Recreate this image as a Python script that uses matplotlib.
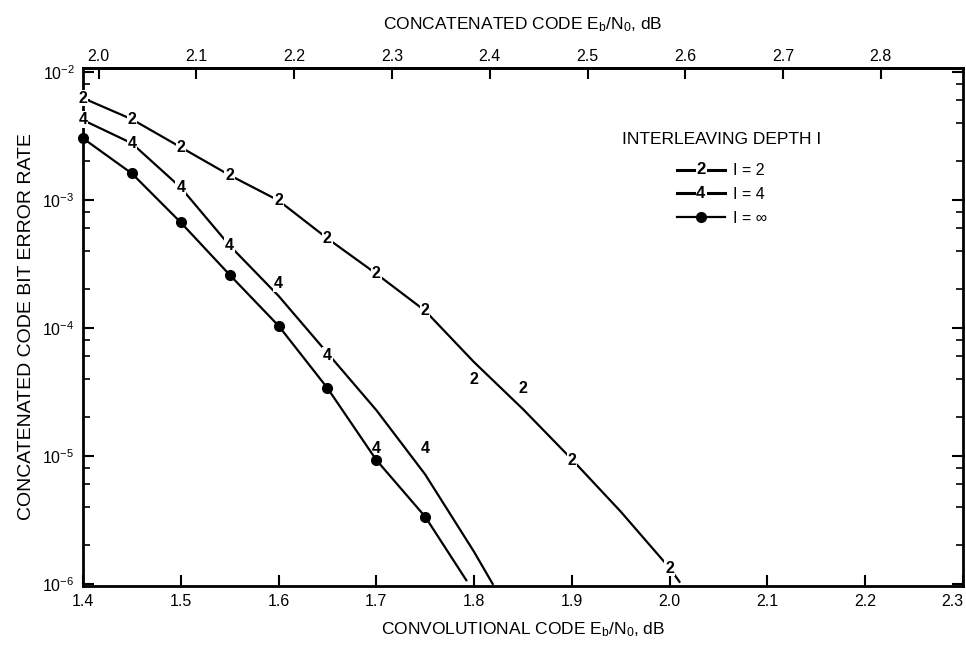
import numpy as np
import matplotlib
matplotlib.use("Agg")
import matplotlib.pyplot as plt
from matplotlib.lines import Line2D
from matplotlib.text import Text
from matplotlib.legend_handler import HandlerBase
from matplotlib.ticker import LogLocator, NullFormatter

plt.rcParams['font.family'] = ['Liberation Sans', 'DejaVu Sans']
plt.rcParams['mathtext.fontset'] = 'custom'
plt.rcParams['mathtext.rm'] = 'Liberation Sans'
plt.rcParams['mathtext.it'] = 'Liberation Sans'

# curve I = 2 (line and its numbered points)
two_line_x = [1.40, 1.45, 1.50, 1.55, 1.60, 1.65, 1.70, 1.75, 1.80, 1.85, 1.90, 1.95, 2.00, 2.01]
two_line_y = [6.25e-3, 4.27e-3, 2.58e-3, 1.56e-3, 9.9e-4, 5.0e-4, 2.65e-4, 1.36e-4,
              5.4e-5, 2.32e-5, 9.4e-6, 3.67e-6, 1.33e-6, 1.04e-6]
two_pts_x = [1.40, 1.45, 1.50, 1.55, 1.60, 1.65, 1.70, 1.75, 1.80, 1.85, 1.90, 2.00]
two_pts_y = [6.25e-3, 4.27e-3, 2.58e-3, 1.56e-3, 9.9e-4, 5.0e-4, 2.65e-4, 1.36e-4,
             3.98e-5, 3.39e-5, 9.2e-6, 1.33e-6]

# curve I = 4
four_line_x = [1.40, 1.45, 1.50, 1.55, 1.60, 1.65, 1.70, 1.75, 1.80, 1.819]
four_line_y = [4.21e-3, 2.77e-3, 1.25e-3, 4.4e-4, 1.78e-4, 6.37e-5, 2.28e-5, 7.16e-6, 1.78e-6, 1.0e-6]
four_pts_x = [1.40, 1.45, 1.50, 1.55, 1.60, 1.65, 1.70, 1.75]
four_pts_y = [4.27e-3, 2.77e-3, 1.25e-3, 4.4e-4, 2.21e-4, 6.14e-5, 1.15e-5, 1.15e-5]

# curve I = infinity (dots on the first 8 points)
inf_x = [1.40, 1.45, 1.50, 1.55, 1.60, 1.65, 1.70, 1.75, 1.792]
inf_y = [3.03e-3, 1.61e-3, 6.67e-4, 2.6e-4, 1.04e-4, 3.39e-5, 9.3e-6, 3.35e-6, 1.07e-6]
n_dots = 8

bottom_ticks = [1.4, 1.5, 1.6, 1.7, 1.8, 1.9, 2.0, 2.1, 2.2, 2.3]
top_ticks = [2.0, 2.1, 2.2, 2.3, 2.4, 2.5, 2.6, 2.7, 2.8]
top_offset = 0.584  # concatenated Eb/N0 = convolutional Eb/N0 + offset


class DigitHandler(HandlerBase):
    """legend entry drawn as  --d--"""
    def __init__(self, digit):
        super().__init__()
        self.digit = digit

    def create_artists(self, legend, orig_handle, xdescent, ydescent, width, height, fontsize, trans):
        y = height / 2 - ydescent
        x0 = -xdescent
        mid = x0 + width / 2
        gap = 0.15 * width
        a = Line2D([x0, mid - gap], [y, y], color='black', lw=2.2, transform=trans)
        b = Line2D([mid + gap, x0 + width], [y, y], color='black', lw=2.2, transform=trans)
        t = Text(mid, y, self.digit, ha='center', va='center', fontsize=fontsize + 0.5,
                 fontweight='bold', transform=trans)
        return [a, b, t]


fig = plt.figure(figsize=(9.66, 6.45), dpi=100)
ax = fig.add_axes([0.0859, 0.0915, 0.911, 0.8031])

label_box = dict(facecolor='white', edgecolor='none', pad=0.6)

l2, = ax.plot(two_line_x, two_line_y, color='black', lw=1.6, label='I = 2')
for x, y in zip(two_pts_x, two_pts_y):
    ax.text(x, y, '2', ha='center', va='center', fontsize=11.5, fontweight='bold',
            bbox=label_box, clip_on=False, zorder=4)

l4, = ax.plot(four_line_x, four_line_y, color='black', lw=1.6, label='I = 4')
for x, y in zip(four_pts_x, four_pts_y):
    ax.text(x, y, '4', ha='center', va='center', fontsize=11.5, fontweight='bold',
            bbox=label_box, clip_on=False, zorder=4)

linf, = ax.plot(inf_x, inf_y, color='black', lw=1.6, marker='o', markersize=7,
                markevery=list(range(n_dots)), clip_on=False, zorder=5, label='I = \u221e')

ax.set_yscale('log')
ax.set_xlim(1.4, 2.3)
ax.set_ylim(10 ** -6.016, 10 ** -1.969)
ax.set_xticks(bottom_ticks)
ax.set_xticklabels([f'{t:.1f}' for t in bottom_ticks])
ax.get_xticklabels()[-1].set_horizontalalignment('right')
ax.yaxis.set_major_locator(LogLocator(base=10, numticks=10))
ax.yaxis.set_minor_locator(LogLocator(base=10, subs=[2, 4, 6, 8], numticks=10))
ax.yaxis.set_minor_formatter(NullFormatter())
ax.tick_params(axis='both', which='major', direction='in', length=8, width=1.5,
               labelsize=11.5, right=True, pad=6)
ax.tick_params(axis='y', which='minor', direction='in', length=5, width=1.2, right=True)
for s in ax.spines.values():
    s.set_linewidth(2)

top = ax.secondary_xaxis('top', functions=(lambda v: v + top_offset, lambda v: v - top_offset))
top.set_xticks(top_ticks)
top.set_xticklabels([f'{t:.1f}' for t in top_ticks])
top.tick_params(direction='in', length=8, width=1.5, labelsize=11.5, pad=3)
top.spines['top'].set_linewidth(2)
top.set_xlabel(r'CONCATENATED CODE E$_\mathrm{b}$/N$_\mathrm{0}$, dB', fontsize=12.5, labelpad=14)

ax.set_xlabel(r'CONVOLUTIONAL CODE E$_\mathrm{b}$/N$_\mathrm{0}$, dB', fontsize=12.5, labelpad=8)
ax.set_ylabel('CONCATENATED CODE BIT ERROR RATE', fontsize=14, labelpad=5)

leg = ax.legend(handles=[l2, l4, linf], handler_map={l2: DigitHandler('2'), l4: DigitHandler('4')},
                title='INTERLEAVING DEPTH I', loc='upper center', bbox_to_anchor=(0.726, 0.905),
                frameon=False, fontsize=11.5, title_fontsize=12.5, handlelength=3.0,
                handletextpad=0.5, labelspacing=0.55)
leg._legend_box.sep = 12

fig.savefig('out.png', dpi=100)
